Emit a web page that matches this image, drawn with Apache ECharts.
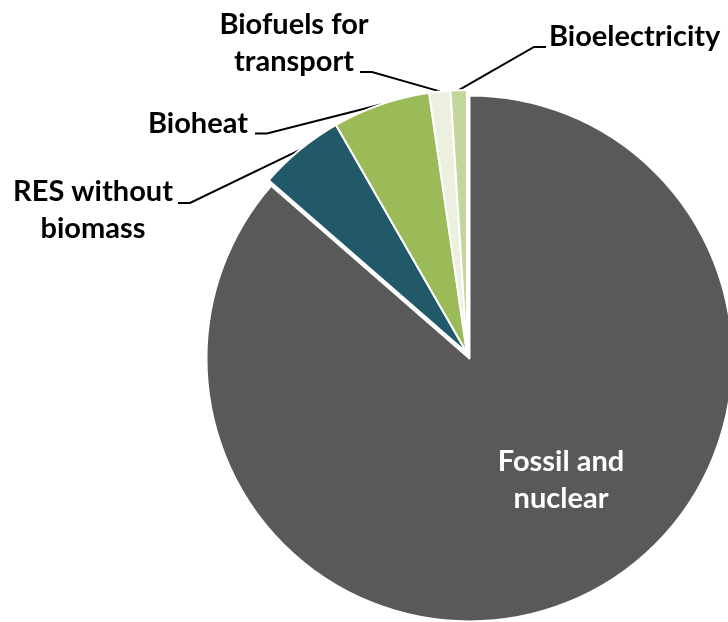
<!DOCTYPE html>
<html>
<head>
<meta charset="utf-8">
<script src="https://cdn.jsdelivr.net/npm/echarts@6/dist/echarts.min.js"></script>
<style>
  html, body { margin: 0; padding: 0; background: #ffffff; }
  #chart { width: 728px; height: 622px; }
</style>
</head>
<body>
<div id="chart"></div>
<script>
// Shares of primary energy supply (%)
const categories = ['Fossil and nuclear', 'RES without biomass', 'Bioheat', 'Biofuels for transport', 'Bioelectricity'];
const labelTexts = ['Fossil and\nnuclear', 'RES without\nbiomass', 'Bioheat', 'Biofuels for\ntransport', 'Bioelectricity'];
const shares = [86.4, 5.3, 6.0, 1.3, 1.0];
const colors = ['#595959', '#215968', '#9BBB59', '#EBF1DE', '#C3D69B'];

// Where each label sits, and where its leader line meets the text
const labelPlacement = [
  { x: 561, y: 480, align: 'center' },
  { x: 93,  y: 210, align: 'center', lineEnd: [178, 203] },
  { x: 248, y: 124, align: 'right',  lineEnd: [255, 133.5] },
  { x: 294, y: 43,  align: 'center', lineEnd: [360, 72] },
  { x: 549, y: 37,  align: 'left',   lineEnd: [546, 47] }
];

const PIE_CENTER = [467, 353];
const PIE_RADIUS = 263;
const EXPLODE = 6;          // the large slice is pulled out along its mid-angle
const EXPLODED = 0;         // index of the pulled-out slice

const chart = echarts.init(document.getElementById('chart'), null, { renderer: 'canvas' });

// mid-angle of the pulled-out slice, measured clockwise from 12 o'clock
const total = shares.reduce((a, b) => a + b, 0);
const before = shares.slice(0, EXPLODED).reduce((a, b) => a + b, 0);
const midRad = ((before + shares[EXPLODED] / 2) / total) * 2 * Math.PI;
const explodedCenter = [
  PIE_CENTER[0] + EXPLODE * Math.sin(midRad),
  PIE_CENTER[1] - EXPLODE * Math.cos(midRad)
];

function labelLayout(p) {
  const pl = labelPlacement[p.dataIndex];
  const out = { x: pl.x, y: pl.y, align: pl.align, verticalAlign: 'middle' };
  if (pl.lineEnd && p.labelLinePoints) {
    const start = p.labelLinePoints[0];
    const dir = pl.lineEnd[0] < start[0] ? 1 : -1;
    out.labelLinePoints = [
      [start[0], start[1]],
      [pl.lineEnd[0] + dir * 12, pl.lineEnd[1]],
      [pl.lineEnd[0], pl.lineEnd[1]]
    ];
  }
  return out;
}

// build the slice list for one of the two pie layers; slices not on that layer are hidden
function sliceData(onLayer) {
  return categories.map((name, i) => {
    const visible = onLayer(i);
    return {
      name: name,
      value: shares[i],
      itemStyle: visible ? { color: colors[i] } : { color: colors[i], opacity: 0, borderWidth: 0 },
      label: visible
        ? { show: true, formatter: labelTexts[i], color: i === EXPLODED ? '#ffffff' : '#000000' }
        : { show: false },
      labelLine: { show: visible && i !== EXPLODED }
    };
  });
}

const common = {
  type: 'pie',
  radius: PIE_RADIUS,
  startAngle: 90,
  clockwise: true,
  avoidLabelOverlap: false,
  silent: true,
  itemStyle: { borderColor: '#ffffff', borderWidth: 2 },
  label: {
    show: true,
    position: 'outside',
    fontFamily: 'Lato',
    fontWeight: 'bold',
    fontSize: 29,
    lineHeight: 37
  },
  labelLine: {
    show: true,
    lineStyle: { color: '#000000', width: 2 }
  },
  labelLayout: labelLayout,
  emphasis: { disabled: true }
};

chart.setOption({
  animation: false,
  backgroundColor: '#ffffff',
  series: [
    Object.assign({}, common, {
      name: 'Renewables',
      center: PIE_CENTER,
      data: sliceData(i => i !== EXPLODED)
    }),
    Object.assign({}, common, {
      name: 'Fossil',
      center: explodedCenter,
      data: sliceData(i => i === EXPLODED)
    })
  ]
});
</script>
</body>
</html>
